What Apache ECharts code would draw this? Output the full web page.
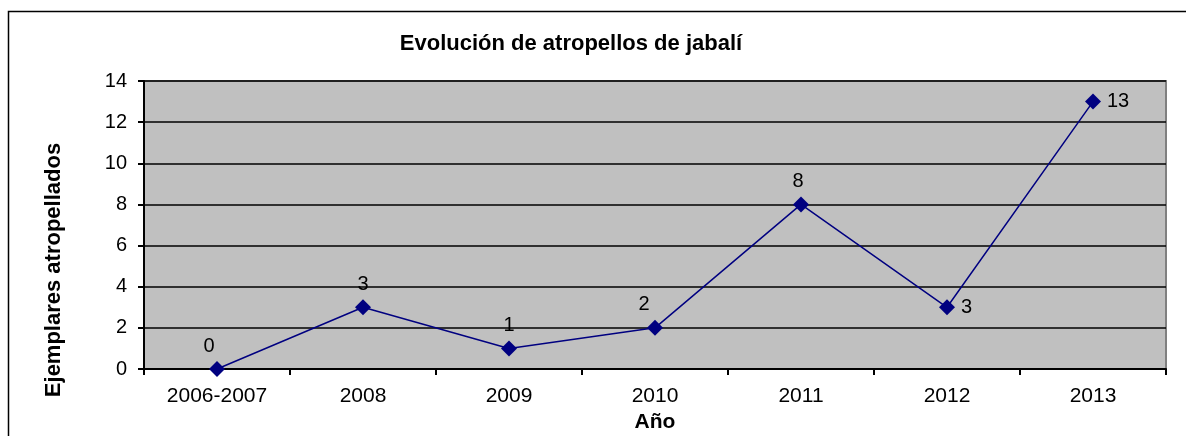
<!DOCTYPE html>
<html>
<head>
<meta charset="utf-8">
<script src="https://cdn.jsdelivr.net/npm/echarts@6/dist/echarts.min.js"></script>
<style>
  html, body { margin: 0; padding: 0; background: #fff; }
  #chart { width: 1186px; height: 436px; }
</style>
</head>
<body>
<div id="chart"></div>
<script>
// data
const years = ['2006-2007', '2008', '2009', '2010', '2011', '2012', '2013'];
const atropellos = [0, 3, 1, 2, 8, 3, 13];

const chart = echarts.init(document.getElementById('chart'));
const font = 'Liberation Sans, Arial, sans-serif';

// where each value label sits, like in the original
function labelFor(i) {
  if (i === 0) return { position: 'top', offset: [-8, 0] };
  if (i === 3) return { position: 'top', offset: [-11, 0] };
  if (i === 4) return { position: 'top', offset: [-3, 0] };
  if (i === 5 || i === 6) return { position: 'right', distance: 6 };
  return { position: 'top' };
}

const seriesData = atropellos.map((v, i) => ({ value: v, label: labelFor(i) }));

chart.setOption({
  animation: false,
  textStyle: { fontFamily: font },
  title: {
    text: 'Evolución de atropellos de jabalí',
    left: 566,
    top: 28,
    textAlign: 'center',
    textStyle: { fontSize: 22, fontWeight: 'bold', color: '#000', fontFamily: font }
  },
  graphic: [{
    type: 'rect',
    shape: { x: 8.5, y: 11.5, width: 1200, height: 450 },
    style: { fill: null, stroke: '#000', lineWidth: 1.5 },
    silent: true
  }, {
    // y axis title sits lower than the plot centre in the original
    type: 'text',
    x: 54,
    y: 270,
    rotation: Math.PI / 2,
    style: {
      text: 'Ejemplares atropellados',
      fontSize: 22,
      fontWeight: 'bold',
      fontFamily: font,
      fill: '#000',
      align: 'center',
      verticalAlign: 'middle'
    },
    silent: true
  }],
  grid: {
    left: 144, right: 20, top: 81, bottom: 67,
    outerBoundsMode: 'none',
    containLabel: false,
    show: true,
    backgroundColor: '#c0c0c0',
    borderColor: '#808080',
    borderWidth: 2
  },
  xAxis: {
    type: 'category',
    data: years,
    boundaryGap: true,
    name: 'Año',
    nameLocation: 'middle',
    nameGap: 43,
    nameTextStyle: { fontSize: 21, fontWeight: 'bold', color: '#000' },
    axisLine: { lineStyle: { color: '#000', width: 2 } },
    axisTick: { show: true, length: 6, lineStyle: { color: '#000', width: 2 } },
    axisLabel: { fontSize: 21, color: '#000', margin: 17 },
    splitLine: { show: false }
  },
  yAxis: {
    type: 'value',
    min: 0,
    max: 14,
    interval: 2,
    axisLine: { show: true, lineStyle: { color: '#000', width: 2 } },
    axisTick: { show: true, length: 6, lineStyle: { color: '#000', width: 2 } },
    axisLabel: { fontSize: 20, color: '#000', margin: 17 },
    splitLine: { show: true, lineStyle: { color: '#000', width: 1.5 } }
  },
  series: [{
    name: 'Atropellos',
    type: 'line',
    data: seriesData,
    symbol: 'diamond',
    symbolSize: 16,
    itemStyle: { color: '#000080' },
    lineStyle: { color: '#000080', width: 1.5 },
    label: { show: true, fontSize: 20, color: '#000', distance: 5 }
  }]
});
</script>
</body>
</html>
